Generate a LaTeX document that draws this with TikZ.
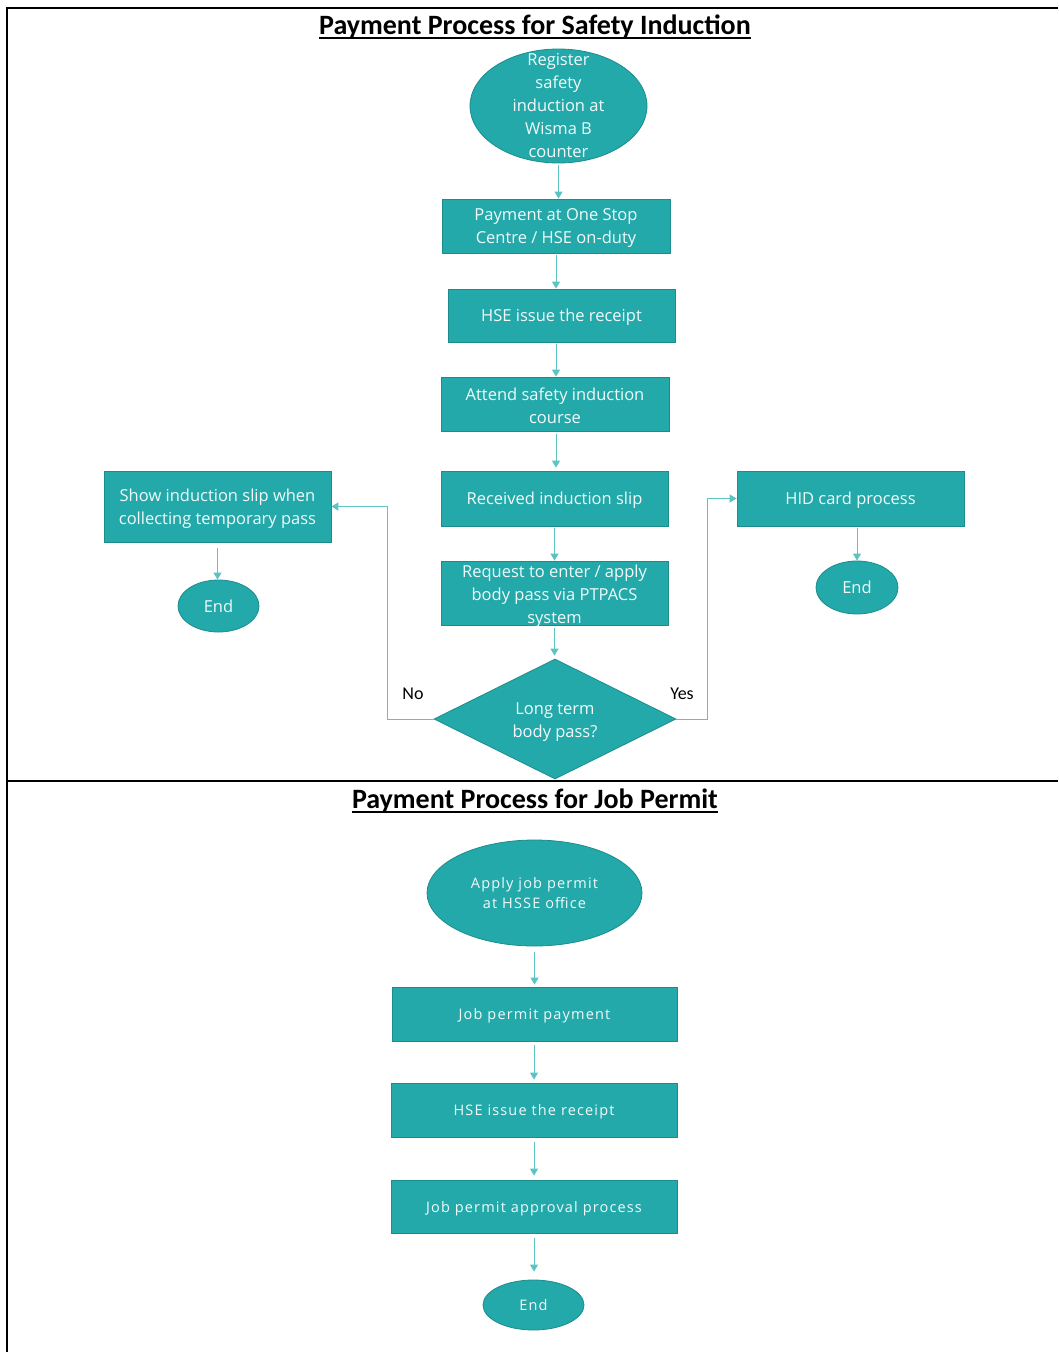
\documentclass[tikz,border=0pt]{standalone}
\usepackage{fontspec}
\setmainfont{Open Sans}
\newfontfamily\titlefont{Carlito}
\usetikzlibrary{shapes.geometric,arrows.meta}
\definecolor{tealfill}{HTML}{23A9AA}
\definecolor{tealdraw}{HTML}{1C8C8C}
\definecolor{tealarrow}{HTML}{5CC3C3}
\definecolor{nodetext}{HTML}{F2FAFA}
\tikzset{
  box/.style={rectangle, draw=tealdraw, fill=tealfill, line width=0.8pt, inner sep=0pt},
  oval/.style={ellipse, draw=tealdraw, fill=tealfill, line width=0.8pt, inner sep=0pt},
  dia/.style={diamond, draw=tealdraw, fill=tealfill, line width=0.8pt, inner sep=0pt},
  txt/.style={text=nodetext, align=center, font=\fontsize{16.5}{23}\selectfont},
  txtb/.style={text=nodetext, align=center, font=\fontsize{14.5}{20}\selectfont\addfontfeatures{LetterSpace=8}},
  lbl/.style={text=black, font=\titlefont\fontsize{18}{20}\selectfont},
  ttl/.style={font=\titlefont\bfseries\fontsize{28}{30}\selectfont, inner sep=0pt, anchor=base},
  uline/.style={draw=black, line width=2pt},
  arr/.style={draw=tealarrow, line width=0.9pt, -{Triangle[length=7pt,width=8pt]}},
  frame/.style={draw=black, line width=2pt}
}
\begin{document}
\begin{tikzpicture}[x=1pt,y=-1pt]
\useasboundingbox (0,0) rectangle (1058,1352);
% frame
\draw[frame] (7,1352) -- (7,8) -- (1058,8);
\draw[frame] (7,781) -- (1058,781);
% titles
\node[ttl] (t1) at (535,34) {Payment Process for Safety Induction};
\draw[uline] ([yshift=-4pt]t1.base west) -- ([yshift=-4pt]t1.base east);
\node[ttl] (t2) at (535,808) {Payment Process for Job Permit};
\draw[uline] ([yshift=-4pt]t2.base west) -- ([yshift=-4pt]t2.base east);
% top flow
\node[oval, minimum width=177pt, minimum height=114pt] (e1) at (558.5,106) {};
\node[txt] (e1t) at (e1.center) {Register\\safety\\induction at\\Wisma B\\counter};
\node[box, minimum width=228pt, minimum height=54pt] (b1) at (556,226) {};
\node[txt] (b1t) at ([yshift=-2pt]b1.center) {Payment at One Stop\\Centre / HSE on-duty};
\node[box, minimum width=227pt, minimum height=53pt] (b2) at (561.5,315.5) {};
\node[txt] (b2t) at ([yshift=-2pt]b2.center) {HSE issue the receipt};
\node[box, minimum width=228pt, minimum height=54pt] (b3) at (555,404) {};
\node[txt] (b3t) at ([yshift=-2pt]b3.center) {Attend safety induction\\course};
\node[box, minimum width=227pt, minimum height=55pt] (b4) at (554.5,498.5) {};
\node[txt] (b4t) at ([yshift=-2pt]b4.center) {Received induction slip};
\node[box, minimum width=227pt, minimum height=64pt] (b5) at (554.5,593) {};
\node[txt] (b5t) at ([yshift=-3pt]b5.center) {Request to enter / apply\\body pass via PTPACS\\system};
\node[dia, minimum width=242pt, minimum height=120pt] (d) at (555,719) {};
\node[txt] (dt) at ([yshift=-3pt]d.center) {Long term\\body pass?};
\node[box, minimum width=227pt, minimum height=71pt] (lb) at (217.5,506.5) {};
\node[txt] (lbt) at ([yshift=-2pt]lb.center) {Show induction slip when\\collecting temporary pass};
\node[oval, minimum width=81pt, minimum height=52pt, txt] (le) at (218.5,606) {End};
\node[box, minimum width=227pt, minimum height=55pt] (rb) at (850.5,498.5) {};
\node[txt] (rbt) at ([yshift=-2pt]rb.center) {HID card process};
\node[oval, minimum width=82pt, minimum height=53pt, txt] (re) at (857,587.5) {End};
\node[lbl] (no) at (413,694) {No};
\node[lbl] (yes) at (682,694) {Yes};
% top connectors
\draw[arr] ([yshift=-2pt]e1.south) -- (e1.south |- b1.north);
\draw[arr] ([yshift=-2pt]b1.south) -- (b1.south |- b2.north);
\draw[arr] ([yshift=-2pt]b2.south -| b1.south) -- (b1.south |- b3.north);
\draw[arr] ([yshift=-3pt]b3.south -| b1.south) -- ([yshift=3pt]b1.south |- b4.north);
\draw[arr] ([yshift=-2pt]b4.south) -- (b4.south |- b5.north);
\draw[arr] ([yshift=-3pt]b5.south) -- ([yshift=3pt]b5.south |- d.north);
\draw[arr] (d.west) -- ++(-46,0) |- (lb.east);
\draw[arr] (d.east) -- ++(31,0) |- (rb.west);
\draw[arr] ([yshift=-6pt]lb.south) -- (lb.south |- le.north);
\draw[arr] ([yshift=-2pt]rb.south -| re.north) -- (re.north);
% bottom flow
\node[oval, minimum width=215pt, minimum height=106pt] (e2) at (534.5,893) {};
\node[txtb] (e2t) at (e2.center) {Apply job permit\\at HSSE office};
\node[box, minimum width=285pt, minimum height=54pt] (c1) at (534.5,1014) {};
\node[txtb] (c1t) at ([yshift=-2pt]c1.center) {Job permit payment};
\node[box, minimum width=286pt, minimum height=54pt] (c2) at (534,1110) {};
\node[txtb] (c2t) at ([yshift=-2pt]c2.center) {HSE issue the receipt};
\node[box, minimum width=286pt, minimum height=53pt] (c3) at (534,1206.5) {};
\node[txtb] (c3t) at ([yshift=-2pt]c3.center) {Job permit approval process};
\node[oval, minimum width=101pt, minimum height=50pt, txtb] (ce) at (533.5,1305) {End};
% bottom connectors
\draw[arr] ([yshift=-6pt]e2.south) -- ([yshift=2pt]e2.south |- c1.north);
\draw[arr] ([yshift=-4pt]c1.south -| c2.south) -- ([yshift=3pt]c2.north);
\draw[arr] ([yshift=-5pt]c2.south) -- ([yshift=4pt]c3.north);
\draw[arr] ([yshift=-5pt]c3.south) -- ([yshift=8pt]c3.south |- ce.north);
\end{tikzpicture}
\end{document}
